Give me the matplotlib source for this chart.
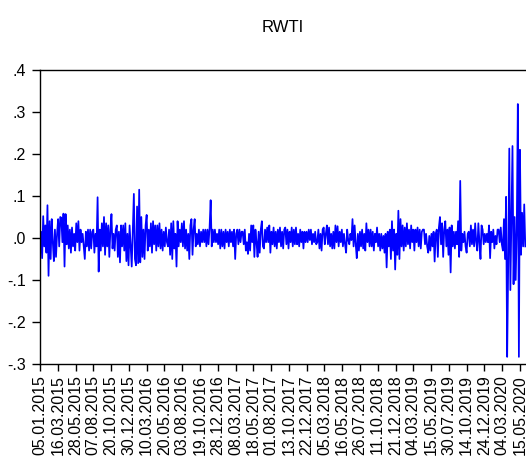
import numpy as np
import matplotlib
matplotlib.use("Agg")
import matplotlib.pyplot as plt

plt.rcParams['font.family'] = ['Liberation Sans', 'DejaVu Sans']

title = "RWTI"

# date labels, one every 50 observations
date_labels = [
    "05.01.2015", "16.03.2015", "28.05.2015", "07.08.2015", "20.10.2015",
    "30.12.2015", "10.03.2016", "20.05.2016", "03.08.2016", "19.10.2016",
    "28.12.2016", "08.03.2017", "18.05.2017", "01.08.2017", "13.10.2017",
    "22.12.2017", "05.03.2018", "16.05.2018", "26.07.2018", "11.10.2018",
    "21.12.2018", "04.03.2019", "15.05.2019", "30.07.2019", "14.10.2019",
    "24.12.2019", "04.03.2020", "15.05.2020",
]
obs_per_label = 50
obs_per_value = 3      # values, roughly one per pixel column
n_obs = 1367

yticks = [-0.3, -0.2, -0.1, 0.0, 0.1, 0.2, 0.3, 0.4]
ytick_labels = ["-.3", "-.2", "-.1", ".0", ".1", ".2", ".3", ".4"]

rwti = [
    -0.045, 0.015, -0.048, 0.052, -0.02, 0.03, -0.035, 0.078, -0.09, 0.04,
    -0.05, 0.045, -0.01, -0.055, 0.02, -0.045, 0.01, 0.045, -0.02, 0.05,
    0.048, -0.01, 0.058, -0.068, 0.057, -0.015, 0.03, -0.025, 0.02, -0.035,
    0.025, -0.02, 0.01, -0.03, 0.035, -0.01, 0.04, -0.03, 0.02, -0.01,
    0.01, -0.02, -0.05, 0.015, -0.02, 0.02, -0.03, 0.02, -0.025, 0.015,
    0.02, -0.035, 0.01, -0.02, 0.097, -0.08, 0.02, -0.03, 0.035, -0.02,
    0.05, -0.04, 0.035, -0.02, 0.03, -0.045, 0.02, 0.057, -0.025, 0.01,
    -0.03, 0.02, 0.03, -0.045, 0.015, -0.058, 0.03, -0.02, 0.03, -0.03,
    0.035, -0.055, 0.01, -0.065, 0.03, -0.02, -0.068, 0.02, 0.105, -0.05,
    -0.065, 0.075, -0.06, 0.115, -0.058, 0.05, -0.045, 0.02, -0.05, 0.03,
    0.055, -0.03, 0.02, -0.02, 0.035, -0.035, 0.04, -0.015, 0.03, -0.03,
    0.03, -0.02, 0.035, -0.025, 0.02, -0.03, 0.015, -0.02, 0.025, -0.01,
    -0.02, 0.02, -0.04, 0.035, -0.05, 0.04, -0.025, 0.01, -0.068, 0.04,
    -0.02, 0.02, -0.01, 0.035, -0.02, 0.04, -0.025, 0.02, -0.03, 0.01,
    -0.05, 0.03, 0.045, -0.04, 0.02, 0.045, -0.02, 0.01, -0.015, 0.02,
    -0.02, 0.015, -0.01, 0.02, -0.01, 0.02, -0.02, 0.02, -0.015, 0.025,
    0.09, -0.02, 0.02, -0.01, 0.02, -0.01, 0.01, -0.015, 0.02, -0.025,
    0.02, -0.02, 0.015, -0.025, 0.02, -0.01, 0.015, -0.02, 0.02, -0.01,
    0.015, -0.02, 0.02, -0.05, 0.01, 0.02, -0.015, 0.02, -0.01, 0.015,
    0.015, -0.015, 0.02, -0.03, -0.01, -0.038, 0.01, -0.03, 0.03, -0.01,
    0.03, -0.045, 0.02, -0.01, -0.045, 0.015, -0.035, 0.02, 0.04, -0.02,
    -0.025, 0.02, -0.01, 0.025, -0.01, 0.03, -0.035, 0.015, -0.015, 0.025,
    -0.02, 0.015, -0.025, 0.02, -0.01, 0.025, -0.02, 0.015, -0.025, 0.02,
    0.025, -0.015, 0.02, -0.025, 0.015, -0.01, 0.025, -0.02, 0.02, -0.015,
    0.025, -0.015, 0.01, -0.02, 0.02, -0.01, 0.015, -0.025, 0.015, -0.01,
    0.015, -0.01, 0.02, -0.005, 0.02, -0.015, 0.01, -0.01, 0.015, -0.015,
    -0.01, 0.02, -0.025, 0.01, -0.03, 0.02, 0.025, -0.015, 0.01, 0.03,
    -0.015, 0.025, -0.02, 0.01, -0.025, 0.015, -0.025, 0.03, -0.01, 0.028,
    -0.02, 0.015, -0.01, 0.02, -0.02, 0.01, -0.015, -0.035, 0.02, -0.005,
    -0.015, 0.01, -0.005, 0.045, -0.02, 0.03, -0.015, -0.048, 0.01, -0.03,
    0.015, -0.02, 0.02, -0.025, 0.01, -0.03, 0.035, -0.01, 0.02, -0.02,
    0.02, -0.02, 0.015, -0.03, 0.01, -0.01, 0.025, -0.02, 0.01, -0.03,
    0.01, -0.025, 0.005, -0.035, 0.01, -0.07, 0.015, -0.02, 0.02, -0.05,
    0.04, -0.03, 0.02, -0.075, 0.01, -0.04, 0.065, -0.05, 0.045, -0.02,
    0.03, -0.03, 0.025, -0.02, 0.035, -0.015, 0.02, -0.025, 0.03, -0.01,
    0.02, -0.03, 0.02, -0.01, 0.025, -0.02, 0.02, -0.025, 0.015, 0.02,
    0.02, -0.015, 0.01, -0.02, -0.035, 0.005, -0.03, 0.01, -0.02, 0.015,
    -0.056, 0.01, 0.02, -0.045, 0.025, 0.05, -0.015, 0.035, -0.045, 0.02,
    0.04, -0.02, 0.02, -0.04, 0.025, -0.082, 0.03, -0.02, 0.015, -0.025,
    0.015, -0.015, 0.04, -0.045, 0.136, -0.03, 0.01, -0.01, 0.015, -0.02,
    -0.035, 0.01, 0.015, -0.02, 0.03, -0.015, 0.02, -0.02, 0.035, -0.01,
    -0.03, 0.035, -0.01, -0.05, 0.03, 0.02, -0.015, 0.01, -0.01, 0.01,
    -0.01, 0.03, -0.048, 0.015, -0.01, 0.02, -0.025, 0.005, -0.015, 0.02,
    0.02, -0.01, 0.025, -0.015, -0.03, 0.045, -0.05, 0.098, -0.283, -0.06,
    0.213, -0.124, 0.05, 0.219, -0.11, 0.05, -0.10, 0.02, 0.319, -0.283,
    0.21, -0.04, 0.06, -0.02, 0.08, -0.02,
]

W, H = 526, 462
fig = plt.figure(figsize=(W / 100, H / 100), dpi=100)
ax = fig.add_axes([40 / W, 1 - 364 / H, 1 - 40 / W, (364 - 70) / H])

x = np.arange(len(rwti)) * obs_per_value
ax.plot(x, rwti, color="#0000ff", lw=1.25)

ax.set_xlim(0, n_obs)
ax.set_ylim(-0.3, 0.4)
ax.set_yticks(yticks)
ax.set_yticklabels(ytick_labels, fontsize=11.5)
ax.set_xticks(np.arange(len(date_labels)) * obs_per_label)
ax.set_xticklabels(date_labels, rotation=90, fontsize=11.5)

ax.spines['right'].set_visible(False)
for s in ['left', 'top', 'bottom']:
    ax.spines[s].set_linewidth(1.0)
    ax.spines[s].set_color('black')
ax.tick_params(axis='y', direction='out', length=6, width=1.0, pad=4)
ax.tick_params(axis='x', direction='out', length=5, width=1.0, pad=3)

fig.text(283 / W, 1 - 27 / H, title, ha='center', va='center', fontsize=12)

fig.savefig("out.png", dpi=100)
